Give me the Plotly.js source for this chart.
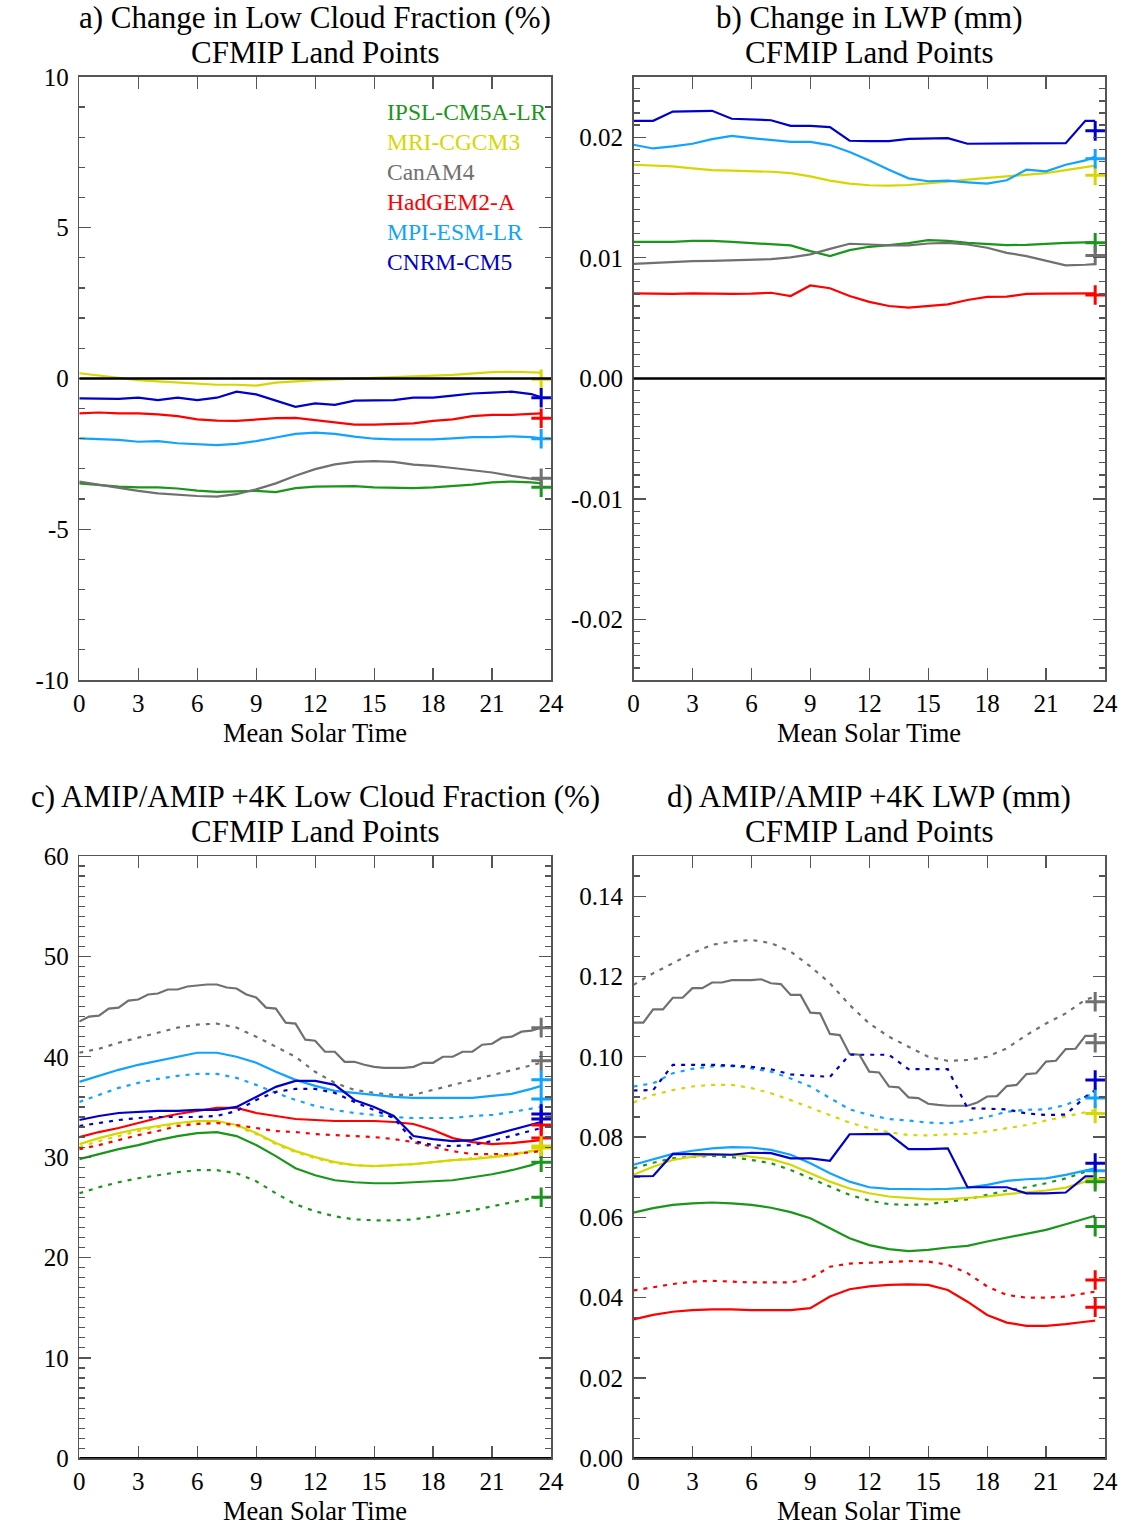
<!DOCTYPE html>
<html>
<head>
<meta charset="utf-8">
<script src="https://cdn.plot.ly/plotly-3.0.1.min.js"></script>
<style>html,body{margin:0;padding:0;background:#fff;}</style>
</head>
<body>
<div id="chart" style="width:1126px;height:1528px;"></div>
<script>
// ---------------- DATA ----------------
const hours = [0,1,2,3,4,5,6,7,8,9,10,11,12,13,14,15,16,17,18,19,20,21,22,23,23.5];
const halfHours = [0,0.5,1,1.5,2,2.5,3,3.5,4,4.5,5,5.5,6,6.5,7,7.5,8,8.5,9,9.5,10,10.5,11,11.5,12,12.5,13,13.5,14,14.5,15,15.5,16,16.5,17,17.5,18,18.5,19,19.5,20,20.5,21,21.5,22,22.5,23,23.5];
const plusHour = 23.5;
const models = ["IPSL-CM5A-LR","MRI-CGCM3","CanAM4","HadGEM2-A","MPI-ESM-LR","CNRM-CM5"];
const modelColors = ["#1a961a","#d7d700","#707070","#ff0000","#12a2ff","#0000cc"];

const xTickVals = [0,3,6,9,12,15,18,21,24];
const xTickText = ["0","3","6","9","12","15","18","21","24"];
const aTickVals = [-10,-5,0,5,10];
const aTickText = ["-10","-5","0","5","10"];
const bTickVals = [-0.02,-0.01,0,0.01,0.02];
const bTickText = ["-0.02","-0.01","0.00","0.01","0.02"];
const cTickVals = [0,10,20,30,40,50,60];
const cTickText = ["0","10","20","30","40","50","60"];
const dTickVals = [0,0.02,0.04,0.06,0.08,0.10,0.12,0.14];
const dTickText = ["0.00","0.02","0.04","0.06","0.08","0.10","0.12","0.14"];

// a) Change in low cloud fraction (%)
const aIPSL = [-3.48,-3.54,-3.59,-3.61,-3.61,-3.65,-3.72,-3.76,-3.75,-3.73,-3.77,-3.64,-3.59,-3.57,-3.57,-3.61,-3.62,-3.64,-3.61,-3.57,-3.52,-3.45,-3.42,-3.45,-3.48];
const aMRI  = [0.17,0.09,0.0,-0.06,-0.10,-0.14,-0.19,-0.21,-0.21,-0.24,-0.14,-0.09,-0.06,-0.03,-0.01,0.01,0.03,0.06,0.09,0.12,0.17,0.21,0.22,0.19,0.19];
const aCan  = [-3.42,-3.53,-3.62,-3.73,-3.81,-3.86,-3.90,-3.92,-3.84,-3.68,-3.48,-3.23,-3.01,-2.85,-2.77,-2.74,-2.77,-2.86,-2.90,-2.97,-3.04,-3.12,-3.23,-3.33,-3.37];
const aHad  = [-1.16,-1.13,-1.16,-1.16,-1.19,-1.25,-1.36,-1.40,-1.41,-1.36,-1.32,-1.31,-1.38,-1.47,-1.53,-1.53,-1.52,-1.49,-1.41,-1.36,-1.25,-1.21,-1.21,-1.16,-1.16];
const aMPI  = [-1.99,-2.02,-2.04,-2.10,-2.08,-2.15,-2.17,-2.21,-2.17,-2.08,-1.96,-1.84,-1.80,-1.84,-1.93,-2.00,-2.02,-2.02,-2.02,-1.99,-1.95,-1.95,-1.92,-1.95,-1.99];
const aCNRM = [-0.66,-0.68,-0.68,-0.64,-0.72,-0.64,-0.72,-0.64,-0.44,-0.53,-0.74,-0.94,-0.83,-0.88,-0.74,-0.72,-0.72,-0.64,-0.64,-0.57,-0.50,-0.47,-0.44,-0.52,-0.63];
const aPlus = [-3.61,-0.03,-3.31,-1.32,-2.00,-0.64];

// b) Change in LWP (mm)
const bIPSL = [0.01132,0.0113,0.01132,0.0114,0.0114,0.01132,0.01124,0.01113,0.01102,0.01055,0.01014,0.01063,0.01091,0.01105,0.01121,0.01146,0.0114,0.01124,0.01116,0.01105,0.01107,0.01116,0.01124,0.01127,0.0113];
const bMRI  = [0.01771,0.01763,0.01758,0.01741,0.01727,0.01722,0.01719,0.01713,0.01702,0.01675,0.01639,0.01614,0.01601,0.01598,0.01603,0.01614,0.01631,0.01647,0.01661,0.01672,0.01686,0.01702,0.01727,0.01755,0.01763];
const bCan  = [0.0095,0.00959,0.00967,0.00972,0.00975,0.00978,0.00983,0.00989,0.01003,0.01028,0.01074,0.01116,0.0111,0.01102,0.01102,0.01118,0.01124,0.0111,0.01083,0.01041,0.01014,0.00978,0.00937,0.00942,0.00948];
const bHad  = [0.00705,0.007,0.007,0.00705,0.007,0.007,0.00702,0.0071,0.00683,0.0077,0.00747,0.00683,0.00634,0.006,0.00587,0.006,0.00614,0.0065,0.00675,0.00678,0.007,0.00702,0.00702,0.00705,0.00705];
const bMPI  = [0.01937,0.01906,0.01923,0.01945,0.01983,0.0201,0.01992,0.01978,0.01961,0.01961,0.01934,0.01876,0.01807,0.0173,0.01658,0.01634,0.01639,0.01625,0.01614,0.01642,0.0173,0.01716,0.01771,0.01807,0.0184];
const bCNRM = [0.02135,0.02135,0.02212,0.02212,0.02218,0.02152,0.02149,0.0214,0.02094,0.02094,0.02083,0.0197,0.01967,0.01967,0.01986,0.01989,0.01992,0.01945,0.01945,0.0195,0.0195,0.01948,0.0195,0.02135,0.02135];
const bPlus = [0.01124,0.01683,0.01019,0.00691,0.01821,0.02052];

// c) AMIP (solid) / AMIP+4K (dotted) low cloud fraction (%)
const cIPSL   = [29.8,30.3,30.8,31.2,31.7,32.1,32.4,32.5,32.1,31.2,30.1,28.9,28.2,27.7,27.5,27.4,27.4,27.5,27.6,27.7,28.0,28.3,28.7,29.2,29.6];
const cIPSL4K = [26.4,27.0,27.5,27.9,28.2,28.5,28.7,28.7,28.4,27.6,26.4,25.3,24.6,24.1,23.8,23.7,23.7,23.8,24.1,24.4,24.7,25.1,25.5,25.9,26.1];
const cMRI    = [31.3,31.9,32.4,32.8,33.1,33.4,33.6,33.6,33.2,32.4,31.4,30.6,30.0,29.5,29.2,29.1,29.2,29.3,29.5,29.7,29.8,30.0,30.2,30.6,30.7];
const cMRI4K  = [31.0,31.6,32.1,32.6,33.0,33.3,33.5,33.5,33.1,32.3,31.3,30.5,29.9,29.4,29.2,29.1,29.2,29.3,29.5,29.7,29.9,30.1,30.3,30.6,30.8];
// CanAM4 AMIP, half-hourly (stair-stepped in the original)
const cCanHalf = [43.5,44.0,44.1,44.8,44.9,45.6,45.7,46.2,46.3,46.7,46.7,47.0,47.1,47.2,47.2,46.9,46.8,46.2,45.9,44.9,44.8,43.4,43.3,41.7,41.6,40.5,40.5,39.5,39.5,39.2,39.0,38.9,38.9,38.9,39.0,39.4,39.4,40.0,40.0,40.5,40.5,41.2,41.3,41.9,42.0,42.5,42.6,42.9];
const cCan4K  = [40.4,40.8,41.4,41.9,42.4,42.9,43.2,43.3,42.9,42.0,41.0,40.0,38.5,37.4,36.7,36.4,36.2,36.2,36.7,37.2,37.7,38.2,38.7,39.2,39.4];
const cHad    = [32.0,32.5,32.9,33.4,33.9,34.3,34.6,34.9,34.9,34.4,34.1,33.8,33.7,33.6,33.6,33.6,33.5,33.3,32.7,31.9,31.5,31.3,31.4,31.6,31.7];
const cHad4K  = [30.8,31.2,31.7,32.2,32.6,33.1,33.3,33.4,33.2,32.9,32.6,32.5,32.3,32.2,32.1,32.0,31.8,31.5,31.0,30.6,30.3,30.3,30.3,30.5,30.6];
const cMPI    = [37.5,38.1,38.7,39.2,39.6,40.0,40.4,40.4,40.0,39.4,38.5,37.7,37.1,36.6,36.4,36.2,36.0,35.9,35.9,35.9,35.9,36.1,36.3,36.8,37.1];
const cMPI4K  = [35.5,36.2,36.9,37.4,37.8,38.1,38.3,38.3,37.9,37.2,36.4,35.7,35.1,34.7,34.4,34.2,34.0,33.9,33.9,33.9,34.1,34.2,34.5,34.8,35.0];
const cCNRM   = [33.7,34.1,34.4,34.5,34.6,34.6,34.7,34.7,35.0,36.0,37.0,37.6,37.6,37.2,35.7,35.0,34.1,32.1,31.8,31.6,31.7,32.2,32.7,33.2,33.5];
const cCNRM4K = [33.1,33.4,33.7,33.9,34.0,34.0,34.0,34.1,34.6,35.7,36.5,36.8,36.8,36.4,35.5,34.7,33.9,31.6,31.2,31.1,31.2,31.6,32.1,32.6,32.9];
const cPlus   = [29.5,31.1,42.9,33.2,37.7,34.3];
const cPlus4K = [26.0,30.9,39.6,31.9,35.8,33.8];

// d) AMIP (solid) / AMIP+4K (dotted) LWP (mm)
const dIPSL   = [0.0612,0.0623,0.0631,0.0635,0.0637,0.0635,0.0631,0.0624,0.0613,0.0598,0.0573,0.0548,0.0531,0.0521,0.0516,0.0519,0.0525,0.0529,0.054,0.055,0.0559,0.0569,0.0583,0.0598,0.0604];
const dIPSL4K = [0.0722,0.0736,0.0747,0.0751,0.0753,0.075,0.0743,0.0735,0.0718,0.0697,0.0675,0.0656,0.0642,0.0633,0.0631,0.0633,0.0639,0.0645,0.0656,0.0667,0.0675,0.0685,0.0697,0.0714,0.0722];
const dMRI    = [0.0706,0.0726,0.0743,0.0751,0.0756,0.0756,0.0751,0.0745,0.0731,0.071,0.0689,0.0672,0.066,0.0652,0.0648,0.0645,0.0645,0.0648,0.0652,0.0658,0.0662,0.0667,0.0674,0.0689,0.0693];
const dMRI4K  = [0.0886,0.0905,0.0917,0.0926,0.093,0.093,0.0922,0.0909,0.0892,0.0873,0.0855,0.0836,0.0822,0.0812,0.0805,0.0804,0.0807,0.0808,0.0814,0.0822,0.083,0.0841,0.0852,0.0863,0.0867];
// CanAM4 AMIP, half-hourly (stair-stepped in the original)
const dCanHalf = [0.1085,0.1085,0.1118,0.1118,0.1147,0.1147,0.1171,0.1171,0.1185,0.1185,0.1191,0.1191,0.1191,0.1193,0.1183,0.1181,0.1154,0.1154,0.111,0.1108,0.1057,0.1054,0.1007,0.1005,0.0963,0.0961,0.0926,0.0924,0.0899,0.0897,0.0883,0.088,0.0878,0.0878,0.0878,0.0886,0.0901,0.0902,0.0927,0.093,0.0957,0.0959,0.0988,0.099,0.1019,0.102,0.1052,0.1052];
const dCan4K  = [0.1179,0.1208,0.1233,0.1258,0.1279,0.1287,0.1291,0.1283,0.1262,0.1225,0.1183,0.1129,0.1083,0.105,0.1025,0.1,0.099,0.0992,0.1,0.1021,0.1054,0.1083,0.1108,0.1142,0.115];
const dHad    = [0.0346,0.0357,0.0365,0.0369,0.0371,0.0371,0.0369,0.0369,0.0369,0.0374,0.0403,0.0421,0.0428,0.0432,0.0433,0.0432,0.0419,0.039,0.0357,0.0338,0.033,0.033,0.0334,0.034,0.0343];
const dHad4K  = [0.0418,0.0426,0.0434,0.044,0.0442,0.044,0.0438,0.0438,0.0438,0.0448,0.0477,0.0485,0.0487,0.049,0.0491,0.049,0.0482,0.0461,0.0428,0.0407,0.04,0.04,0.0403,0.0411,0.0415];
const dMPI    = [0.0731,0.0745,0.0758,0.0766,0.0772,0.0775,0.0774,0.0768,0.0756,0.0735,0.071,0.0689,0.0675,0.0671,0.067,0.067,0.0671,0.0674,0.0681,0.0691,0.0695,0.0697,0.0706,0.0716,0.0722];
const dMPI4K  = [0.0926,0.0934,0.0959,0.097,0.0976,0.0977,0.0971,0.0963,0.0946,0.0926,0.0897,0.0869,0.0855,0.0845,0.0841,0.0836,0.0834,0.0841,0.085,0.0863,0.0868,0.0869,0.088,0.0901,0.0909];
const dCNRM   = [0.0702,0.0703,0.0758,0.0758,0.0757,0.0756,0.0761,0.076,0.0747,0.0747,0.0741,0.0807,0.0808,0.0808,0.077,0.077,0.0772,0.0675,0.0675,0.0675,0.066,0.066,0.0662,0.0702,0.0702];
const dCNRM4K = [0.0916,0.0917,0.098,0.098,0.098,0.0978,0.0975,0.0969,0.0956,0.0953,0.095,0.1005,0.1005,0.1005,0.0969,0.0969,0.0969,0.0872,0.087,0.0869,0.0859,0.0855,0.0856,0.09,0.0917];
const dPlus   = [0.0689,0.0859,0.1137,0.0444,0.0897,0.0942];
const dPlus4K = [0.0577,0.0695,0.1035,0.0376,0.0716,0.0735];

const panelTitles = [
  ["a) Change in Low Cloud Fraction (%)","CFMIP Land Points"],
  ["b) Change in LWP (mm)","CFMIP Land Points"],
  ["c) AMIP/AMIP +4K Low Cloud Fraction (%)","CFMIP Land Points"],
  ["d) AMIP/AMIP +4K LWP (mm)","CFMIP Land Points"]
];
const xAxisTitle = "Mean Solar Time";

// ---------------- BUILD ----------------
const W = 1126, H = 1528;
const FONT = "Liberation Serif, Times New Roman, serif";
// pixel boxes of the four plot areas [left,right,top,bottom]
const boxes = [[79.3,551,76.8,680],[633.5,1105,76.8,680],[79.3,551,856,1458.3],[633.5,1105,856,1458.3]];
const dotDash = "4px,6px";
const LW = 2.2;

const traces = [];
function line(ax, xs, ys, color, dash) {
  traces.push({type:"scatter", mode:"lines", x:xs, y:ys, xaxis:"x"+ax, yaxis:"y"+ax,
    line:{color:color, width:LW, dash:dash || "solid"}, hoverinfo:"skip"});
}
function addPlus(ax, vals) {
  vals.forEach((v, i) => {
    traces.push({type:"scatter", mode:"markers", x:[plusHour], y:[v], xaxis:"x"+ax, yaxis:"y"+ax,
      marker:{symbol:"cross-thin", size:14, color:modelColors[i], line:{color:modelColors[i], width:3}},
      hoverinfo:"skip", cliponaxis:false});
  });
}
// panel a
[aIPSL,aMRI,aCan,aHad,aMPI,aCNRM].forEach((ys,i)=>line("", hours, ys, modelColors[i]));
addPlus("", aPlus);
// panel b
[bIPSL,bMRI,bCan,bHad,bMPI,bCNRM].forEach((ys,i)=>line("2", hours, ys, modelColors[i]));
addPlus("2", bPlus);
// panel c
const cSolid=[[hours,cIPSL],[hours,cMRI],[halfHours,cCanHalf],[hours,cHad],[hours,cMPI],[hours,cCNRM]];
const cDot=[cIPSL4K,cMRI4K,cCan4K,cHad4K,cMPI4K,cCNRM4K];
for (let i=0;i<6;i++){
  line("3", hours, cDot[i], modelColors[i], dotDash);
  line("3", cSolid[i][0], cSolid[i][1], modelColors[i]);
}
addPlus("3", cPlus4K); addPlus("3", cPlus);
// panel d
const dSolid=[[hours,dIPSL],[hours,dMRI],[halfHours,dCanHalf],[hours,dHad],[hours,dMPI],[hours,dCNRM]];
const dDot=[dIPSL4K,dMRI4K,dCan4K,dHad4K,dMPI4K,dCNRM4K];
for (let i=0;i<6;i++){
  line("4", hours, dDot[i], modelColors[i], dotDash);
  line("4", dSolid[i][0], dSolid[i][1], modelColors[i]);
}
addPlus("4", dPlus4K); addPlus("4", dPlus);

const AXC = "#555";
function xAxis(box, anchor){
  return {domain:[box[0]/W, box[1]/W], anchor:anchor, range:[0,24], tickmode:"array",
    tickvals:xTickVals, ticktext:xTickText, ticks:"inside", ticklen:12, tickwidth:1.2, tickcolor:AXC,
    showline:true, linecolor:AXC, linewidth:1.5, mirror:"ticks", showgrid:false, zeroline:false,
    tickfont:{family:FONT, size:25, color:"#000"}, ticklabelstandoff:0, fixedrange:true};
}
function yAxis(box, anchor, range, tv, tt, minorDt){
  return {domain:[1-box[3]/H, 1-box[2]/H], anchor:anchor, range:range, tickmode:"array",
    tickvals:tv, ticktext:tt, ticks:"inside", ticklen:12, tickwidth:1.2, tickcolor:AXC,
    minor:{tickmode:"linear", tick0:0, dtick:minorDt, ticks:"inside", ticklen:6, tickwidth:1.2, tickcolor:AXC, showgrid:false},
    showline:true, linecolor:AXC, linewidth:1.5, mirror:"ticks", showgrid:false, zeroline:false,
    tickfont:{family:FONT, size:25, color:"#000"}, ticklabelstandoff:4, fixedrange:true};
}

const annotations = [];
const TITLE_PX = 31;
boxes.forEach((b, k) => {
  const cx = (b[0]+b[1])/2/W;
  annotations.push({xref:"paper",yref:"paper",x:cx,y:1-(b[2]-59.5)/H,text:panelTitles[k][0],showarrow:false,
    xanchor:"center",yanchor:"middle",font:{family:FONT,size:TITLE_PX,color:"#000"}});
  annotations.push({xref:"paper",yref:"paper",x:cx,y:1-(b[2]-24.5)/H,text:panelTitles[k][1],showarrow:false,
    xanchor:"center",yanchor:"middle",font:{family:FONT,size:TITLE_PX,color:"#000"}});
  annotations.push({xref:"paper",yref:"paper",x:cx,y:1-(b[3]+53)/H,text:xAxisTitle,showarrow:false,xanchor:"center",yanchor:"middle",font:{family:FONT,size:26.5,color:"#000"}});
});
// legend in panel a
models.forEach((m, i) => {
  annotations.push({xref:"paper",yref:"paper",x:385/W,y:1-(112+30*i)/H,text:m,showarrow:false,xanchor:"left",yanchor:"middle",font:{family:FONT,size:23.5,color:modelColors[i]}});
});

const shapes = [["x","y"],["x2","y2"],["x3","y3"],["x4","y4"]].map(a => ({
  type:"line", xref:a[0], yref:a[1], x0:0, x1:24, y0:0, y1:0, layer:"above", line:{color:"#000", width:2.5}
}));

const layout = {
  width:W, height:H, margin:{l:0,r:0,t:0,b:0}, paper_bgcolor:"#fff", plot_bgcolor:"#fff",
  showlegend:false, annotations:annotations, shapes:shapes,
  xaxis: xAxis(boxes[0],"y"),  yaxis: yAxis(boxes[0],"x",[-10,10],aTickVals,aTickText,1),
  xaxis2:xAxis(boxes[1],"y2"), yaxis2:yAxis(boxes[1],"x2",[-0.025,0.025],bTickVals,bTickText,0.001),
  xaxis3:xAxis(boxes[2],"y3"), yaxis3:yAxis(boxes[2],"x3",[0,60],cTickVals,cTickText,1),
  xaxis4:xAxis(boxes[3],"y4"), yaxis4:yAxis(boxes[3],"x4",[0,0.15],dTickVals,dTickText,0.005)
};
Plotly.newPlot("chart", traces, layout, {staticPlot:true, displayModeBar:false});
</script>
</body>
</html>
